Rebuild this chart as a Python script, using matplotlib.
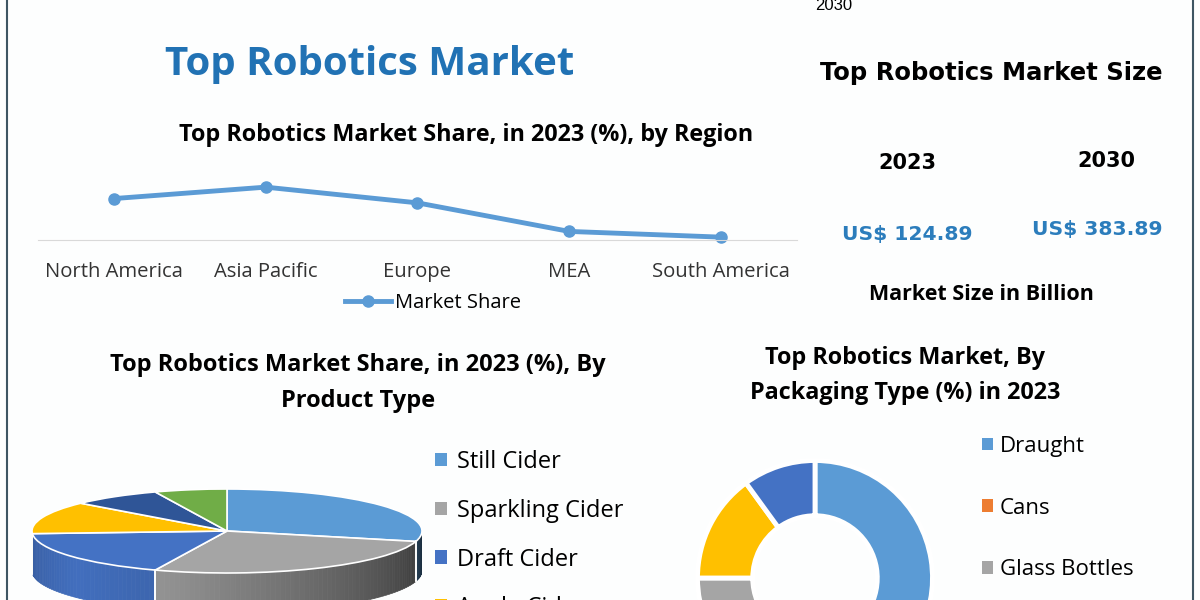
import numpy as np
import matplotlib.pyplot as plt
import matplotlib.colors as mcolors
from matplotlib.patches import Patch, Polygon
from matplotlib.lines import Line2D

W, H = 1200, 600

# data
regions = ["North America", "Asia Pacific", "Europe", "MEA", "South America"]
region_share = [29, 37, 26, 6, 2]

size_years = ["2023", "2030"]
size_values = [124.89, 383.89]

product_types = ["Still Cider", "Sparkling Cider", "Draft Cider", "Apple Cider"]
product_share = [29, 27, 18, 12.5, 7.5, 6]
product_colors = ["#5B9BD5", "#A5A5A5", "#4472C4", "#FFC000", "#2F5597", "#70AD47"]

packaging_types = ["Draught", "Cans", "Glass Bottles"]
packaging_share = [45, 5, 25, 15, 10]
packaging_colors = ["#5B9BD5", "#ED7D31", "#A5A5A5", "#FFC000", "#4472C4"]

BLUE_TXT = "#2172B4"
FONT = "Open Sans"


def fx(x):
    return x / W


def fy(y):
    return 1 - y / H


def box(x0, y0, x1, y1):
    # pixel box, origin top-left -> figure rect
    return [x0 / W, 1 - y1 / H, (x1 - x0) / W, (y1 - y0) / H]


fig = plt.figure(figsize=(12, 6), dpi=100)
fig.patch.set_facecolor("#fdfefe")

for xl in (7, 1193):
    fig.add_artist(Line2D([fx(xl)] * 2, [0, 1], color="#3e5663", lw=1.5))

# headings
fig.text(fx(815), fy(13), "2030", ha="left", va="bottom", fontsize=12, family="Liberation Sans")
fig.text(fx(370), fy(64), "Top Robotics Market", ha="center", va="center",
         fontsize=29, fontweight="bold", color=BLUE_TXT, family=FONT)
fig.text(fx(466), fy(135), "Top Robotics Market Share, in 2023 (%), by Region",
         ha="center", va="center", fontsize=16.8, fontweight="bold", family=FONT)

# line chart by region
ax1 = fig.add_axes(box(38, 180, 797, 240))
x = np.arange(len(regions))
ax1.plot(x, region_share, color="#5B9BD5", lw=3.5, marker="o", ms=8,
         label="Market Share", clip_on=False)
ax1.set_xlim(-0.5, len(regions) - 0.5)
ax1.set_ylim(0, 42)
for s in ["top", "right", "left"]:
    ax1.spines[s].set_visible(False)
ax1.spines["bottom"].set_color("#d9d9d9")
ax1.set_yticks([])
ax1.set_xticks(x, regions, family=FONT)
ax1.tick_params(axis="x", length=0, pad=16, labelsize=14.6, labelcolor="#333333")
ax1.patch.set_alpha(0)
ax1.legend(loc="center", bbox_to_anchor=(fx(433), fy(303)), bbox_transform=fig.transFigure,
           frameon=False, prop={"family": FONT, "size": 14.5}, handlelength=2.3, handletextpad=0.2)

# market size panel
fig.text(fx(991), fy(73), "Top Robotics Market Size", ha="center", va="center",
         fontsize=17.5, fontweight="bold", family="DejaVu Sans")
for xc, y_yr, xv, y_val, yr, v in zip([907, 1106], [163, 161], [907, 1097], [235, 230],
                                       size_years, size_values):
    fig.text(fx(xc), fy(y_yr), yr, ha="center", va="center", fontsize=15,
             fontweight="bold", family="DejaVu Sans")
    fig.text(fx(xv), fy(y_val), f"US$ {v:.2f}", ha="center", va="center", fontsize=14.6,
             fontweight="bold", color="#2C7DBC", family="DejaVu Sans")
fig.text(fx(981), fy(295), "Market Size in Billion", ha="center", va="center",
         fontsize=15.5, fontweight="bold", family=FONT)

# 3D pie by product type
fig.text(fx(358), fy(365), "Top Robotics Market Share, in 2023 (%), By", ha="center",
         va="center", fontsize=17, fontweight="bold", family=FONT)
fig.text(fx(358), fy(401), "Product Type", ha="center", va="center", fontsize=17,
         fontweight="bold", family=FONT)

ax3 = fig.add_axes(box(32, 489, 422, 623))
depth = 0.95
wedges, _ = ax3.pie(product_share, colors=product_colors, startangle=90, counterclock=False,
                    radius=1, wedgeprops=dict(edgecolor="white", linewidth=1.2))
for w, c in zip(wedges, product_colors):
    rgb = np.array(mcolors.to_rgb(c))
    t = w.theta1
    while t < w.theta2:
        t2 = min(t + 1.5, w.theta2)
        mid = (t + t2) / 2
        if np.sin(np.radians(mid)) < 0:
            a = np.radians(np.linspace(t, t2, 3))
            xs, ys = np.cos(a), np.sin(a)
            poly = np.column_stack([np.r_[xs, xs[::-1]], np.r_[ys, ys[::-1] - depth]])
            shade = np.interp(mid % 360, [180, 220, 255, 360], [0.8, 0.97, 0.87, 0.3])
            col = np.clip(rgb * shade, 0, 1)
            ax3.add_patch(Polygon(poly, closed=True, fc=col, ec=col, lw=0.5, zorder=0))
        t = t2
for w in wedges:
    for th in (w.theta1, w.theta2):
        a = np.radians(th)
        if np.sin(a) < -0.05:
            ax3.plot([np.cos(a)] * 2, [np.sin(a), np.sin(a) - depth], color="white", lw=1.2)
ax3.set_aspect("auto")
ax3.set_xlim(-1, 1)
ax3.set_ylim(1 - 134 / 42, 1)
ax3.axis("off")

fig.legend([Patch(facecolor=c) for c in product_colors[:4]], product_types, loc="upper left",
           bbox_to_anchor=(fx(435), fy(450)), frameon=False, prop={"family": FONT, "size": 17},
           handlelength=0.5, handleheight=0.5, handletextpad=0.45, labelspacing=1.05,
           borderpad=0, borderaxespad=0)

# donut by packaging type
fig.text(fx(905), fy(358), "Top Robotics Market, By", ha="center", va="center",
         fontsize=16.8, fontweight="bold", family=FONT)
fig.text(fx(905), fy(393), "Packaging Type (%) in 2023", ha="center", va="center",
         fontsize=16.8, fontweight="bold", family=FONT)

ax4 = fig.add_axes(box(697.5, 460.5, 932.5, 695.5))
ax4.pie(packaging_share, colors=packaging_colors, startangle=90, counterclock=False, radius=1,
        wedgeprops=dict(width=0.47, edgecolor="white", linewidth=3.5))
ax4.set_xlim(-1, 1)
ax4.set_ylim(-1, 1)

fig.legend([Patch(facecolor=c) for c in packaging_colors[:3]], packaging_types, loc="upper left",
           bbox_to_anchor=(fx(982), fy(436)), frameon=False, prop={"family": FONT, "size": 16},
           handlelength=0.5, handleheight=0.5, handletextpad=0.3, labelspacing=1.83,
           borderpad=0, borderaxespad=0)

fig.savefig("out.png", dpi=100, facecolor=fig.get_facecolor())
